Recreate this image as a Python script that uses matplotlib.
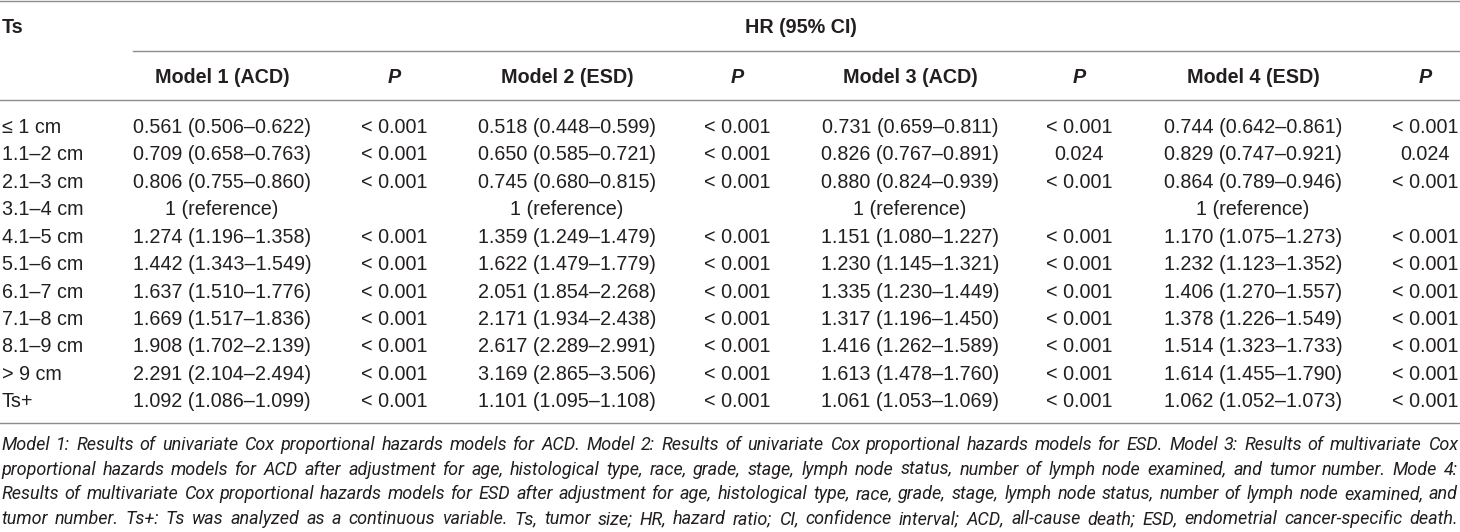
import matplotlib
matplotlib.use('Agg')
import matplotlib.pyplot as plt

# table contents
sizes = ['≤ 1 cm', '1.1–2 cm', '2.1–3 cm', '3.1–4 cm', '4.1–5 cm', '5.1–6 cm',
         '6.1–7 cm', '7.1–8 cm', '8.1–9 cm', '> 9 cm', 'Ts+']
m1_hr = ['0.561 (0.506–0.622)', '0.709 (0.658–0.763)', '0.806 (0.755–0.860)', '1 (reference)',
         '1.274 (1.196–1.358)', '1.442 (1.343–1.549)', '1.637 (1.510–1.776)', '1.669 (1.517–1.836)',
         '1.908 (1.702–2.139)', '2.291 (2.104–2.494)', '1.092 (1.086–1.099)']
m1_p = ['< 0.001'] * 3 + [''] + ['< 0.001'] * 7
m2_hr = ['0.518 (0.448–0.599)', '0.650 (0.585–0.721)', '0.745 (0.680–0.815)', '1 (reference)',
         '1.359 (1.249–1.479)', '1.622 (1.479–1.779)', '2.051 (1.854–2.268)', '2.171 (1.934–2.438)',
         '2.617 (2.289–2.991)', '3.169 (2.865–3.506)', '1.101 (1.095–1.108)']
m2_p = ['< 0.001'] * 3 + [''] + ['< 0.001'] * 7
m3_hr = ['0.731 (0.659–0.811)', '0.826 (0.767–0.891)', '0.880 (0.824–0.939)', '1 (reference)',
         '1.151 (1.080–1.227)', '1.230 (1.145–1.321)', '1.335 (1.230–1.449)', '1.317 (1.196–1.450)',
         '1.416 (1.262–1.589)', '1.613 (1.478–1.760)', '1.061 (1.053–1.069)']
m3_p = ['< 0.001', '0.024', '< 0.001', ''] + ['< 0.001'] * 7
m4_hr = ['0.744 (0.642–0.861)', '0.829 (0.747–0.921)', '0.864 (0.789–0.946)', '1 (reference)',
         '1.170 (1.075–1.273)', '1.232 (1.123–1.352)', '1.406 (1.270–1.557)', '1.378 (1.226–1.549)',
         '1.514 (1.323–1.733)', '1.614 (1.455–1.790)', '1.062 (1.052–1.073)']
m4_p = ['< 0.001', '0.024', '< 0.001', ''] + ['< 0.001'] * 7

col_heads = ['Model 1 (ACD)', 'P', 'Model 2 (ESD)', 'P', 'Model 3 (ACD)', 'P', 'Model 4 (ESD)', 'P']
notes = [
    'Model 1: Results of univariate Cox proportional hazards models for ACD. Model 2: Results of univariate Cox proportional hazards models for ESD. Model 3: Results of multivariate Cox',
    'proportional hazards models for ACD after adjustment for age, histological type, race, grade, stage, lymph node status, number of lymph node examined, and tumor number. Mode 4:',
    'Results of multivariate Cox proportional hazards models for ESD after adjustment for age, histological type, race, grade, stage, lymph node status, number of lymph node examined, and',
    'tumor number. Ts+: Ts was analyzed as a continuous variable. Ts, tumor size; HR, hazard ratio; CI, confidence interval; ACD, all-cause death; ESD, endometrial cancer-specific death.',
]

W, H = 1460, 532
fig = plt.figure(figsize=(W / 100, H / 100), dpi=100)
ax = fig.add_axes([0, 0, 1, 1])
ax.set_xlim(0, W)
ax.set_ylim(H, 0)
ax.axis('off')

ink = '#231f20'
rule = '#8c8c8c'
body = ['Liberation Sans', 'DejaVu Sans']
fs = 14.2

col_x = [222, 394, 567, 737, 910, 1079, 1253, 1425]
row0, row_step = 133, 27.43

# rules
ax.plot([0, W], [0.8, 0.8], color=rule, lw=1.0)
ax.plot([133, W], [51, 51], color=rule, lw=1.0)
ax.plot([0, W], [100, 100], color=rule, lw=1.0)
ax.plot([0, W], [423, 423], color=rule, lw=1.0)

# headers
ax.text(2, 33.3, 'Ts', family=body, fontsize=fs, fontweight='bold', color=ink, va='baseline')
ax.text(801, 33.3, 'HR (95% CI)', family=body, fontsize=fs, fontweight='bold', color=ink,
        va='baseline', ha='center')
for x, h in zip(col_x, col_heads):
    ax.text(x, 83.3, h, family=body, fontsize=fs, fontweight='bold', color=ink, va='baseline',
            ha='center', style='italic' if h == 'P' else 'normal')

# body
columns = [m1_hr, m1_p, m2_hr, m2_p, m3_hr, m3_p, m4_hr, m4_p]
for i, s in enumerate(sizes):
    y = row0 + i * row_step
    ax.text(2, y, s, family=body, fontsize=fs, color=ink, va='baseline')
    for x, col in zip(col_x, columns):
        if col[i]:
            ax.text(x, y, col[i], family=body, fontsize=fs, color=ink, va='baseline', ha='center')

# footnote, justified to the full width
note_font = ['Roboto', 'Liberation Sans', 'DejaVu Sans']

renderer = fig.canvas.get_renderer()
nfs = 13.3
probe = [ax.text(0, 0, n, family=note_font, fontsize=nfs, style='italic') for n in notes]
longest = max(t.get_window_extent(renderer).width for t in probe)
for t in probe:
    t.remove()
if longest > 1420:
    nfs = nfs * 1420 / longest

left, right = 1, 1458
note_y = [450, 474.7, 499.3, 524]
for line, y in zip(notes, note_y):
    words = line.split(' ')
    items = [ax.text(0, y, w, family=note_font, fontsize=nfs, style='italic', color=ink,
                     va='baseline') for w in words]
    widths = [t.get_window_extent(renderer).width for t in items]
    gap = (right - left - sum(widths)) / (len(words) - 1)
    x = left
    for t, w in zip(items, widths):
        t.set_x(x)
        x += w + gap

fig.savefig('out.png', dpi=100)
